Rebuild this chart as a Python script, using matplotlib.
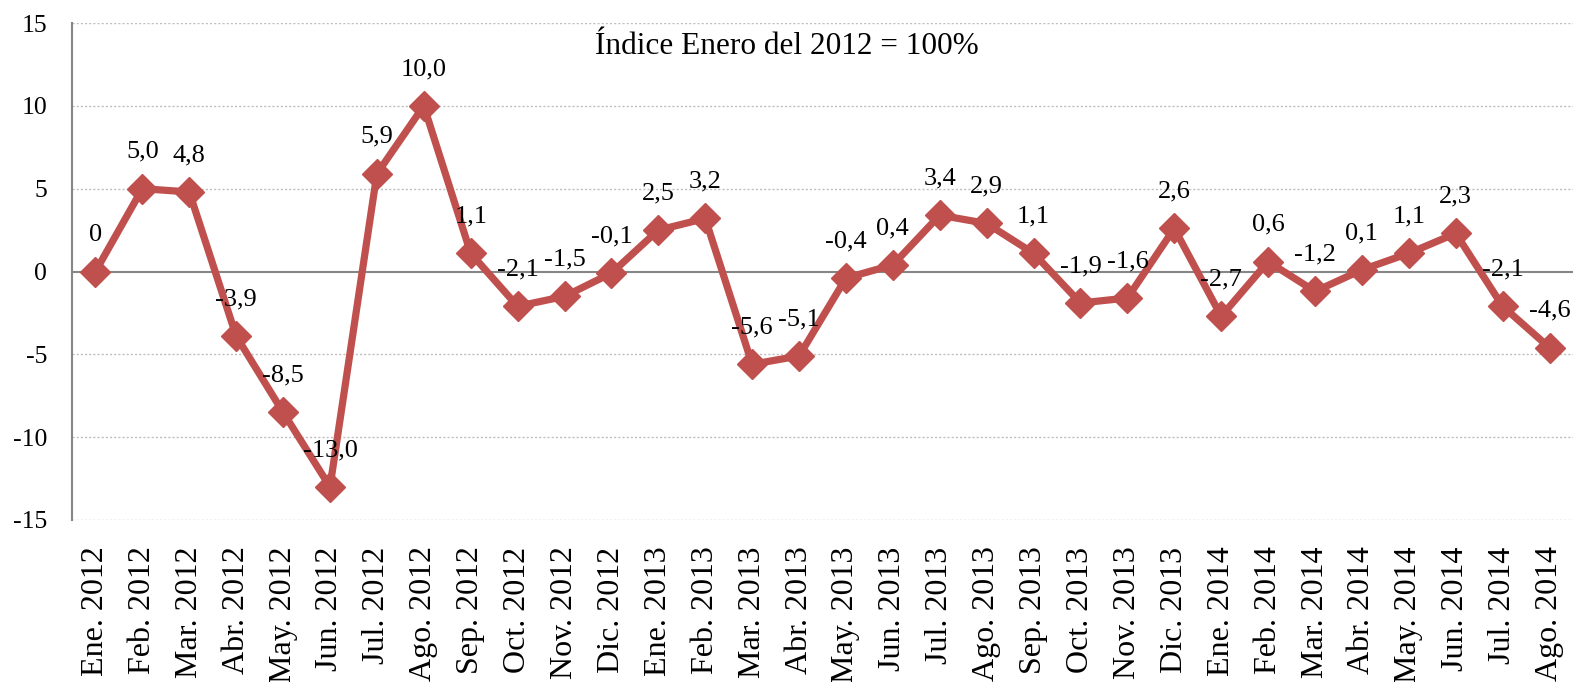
import matplotlib
matplotlib.use("Agg")
import matplotlib.pyplot as plt

months = ["Ene.", "Feb.", "Mar.", "Abr.", "May.", "Jun.", "Jul.", "Ago.", "Sep.", "Oct.", "Nov.", "Dic."]
categories = [f"{m} 2012" for m in months] + [f"{m} 2013" for m in months] + [f"{m} 2014" for m in months[:8]]
values = [0, 5.0, 4.8, -3.9, -8.5, -13.0, 5.9, 10.0, 1.1, -2.1, -1.5, -0.1,
          2.5, 3.2, -5.6, -5.1, -0.4, 0.4, 3.4, 2.9, 1.1, -1.9, -1.6, 2.6,
          -2.7, 0.6, -1.2, 0.1, 1.1, 2.3, -2.1, -4.6]
labels = ["0"] + [f"{v:.1f}".replace(".", ",") for v in values[1:]]
title = "Índice Enero del 2012 = 100%"

plt.rcParams['font.family'] = ['Liberation Serif', 'DejaVu Serif']
plt.rcParams['axes.unicode_minus'] = False
fig = plt.figure(figsize=(15.75, 6.82), dpi=100)
ax = fig.add_axes([72/1575, 1-520/682, (1573-72)/1575, (520-23)/682])

color = "#C0504D"
x = list(range(len(values)))
ax.plot(x, values, color=color, lw=5.2, marker="D", markersize=15.5, zorder=3, solid_joinstyle="miter")

for xi, v, lab in zip(x, values, labels):
    ax.annotate(lab, (xi, v), xytext=(0, 26.5), textcoords="offset points",
                ha="center", va="center", fontsize=19, zorder=4)

ax.set_xlim(-0.5, len(values) - 0.5)
ax.set_ylim(-15, 15)
ax.set_yticks(range(-15, 16, 5))
for yv in [-15, -10, -5, 5, 10, 15]:
    ax.axhline(yv, color="#BFBFBF", lw=1, ls=(0, (1.5, 1.5)), zorder=1)
ax.axhline(0, color="#868686", lw=1.5, zorder=2)

ax.set_xticks(x)
ax.set_xticklabels(categories, rotation=90, fontsize=23)
ax.tick_params(axis="x", length=0, pad=19)
ax.tick_params(axis="y", length=0, labelsize=18.5, pad=18)
for s in ["top", "right", "bottom"]:
    ax.spines[s].set_visible(False)
ax.spines["left"].set_color("#868686")
ax.spines["left"].set_linewidth(1.5)

ax.text(0.476, 0.952, title, transform=ax.transAxes, ha="center", va="center", fontsize=22.5)

fig.savefig("out.png", dpi=100)
